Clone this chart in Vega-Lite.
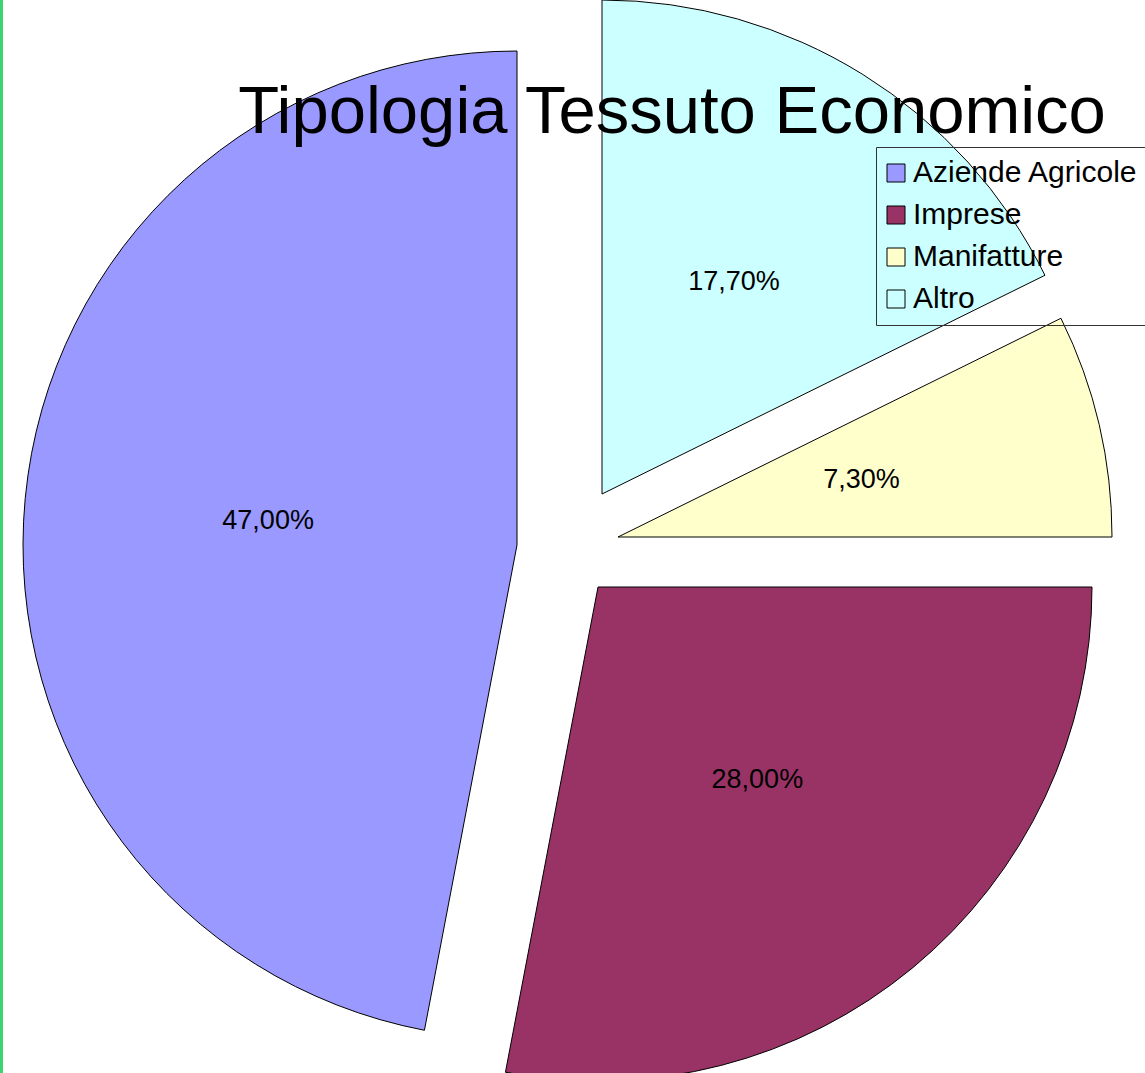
{
  "$schema": "https://vega.github.io/schema/vega-lite/v6.json",
  "width": 1142,
  "height": 1073,
  "autosize": "none",
  "padding": {"left": 3, "top": 0, "right": 0, "bottom": 0},
  "background": "#3dd46f",
  "view": {"fill": "white", "stroke": null},
  "config": {
    "view": {"fill": "white", "stroke": null},
    "font": "Liberation Sans"
  },
  "title": {
    "text": "Tipologia Tessuto Economico",
    "orient": "top",
    "anchor": "middle",
    "frame": "group",
    "offset": 0,
    "baseline": "alphabetic",
    "dx": 98,
    "dy": 202,
    "fontSize": 67,
    "fontWeight": "normal",
    "font": "Liberation Sans",
    "color": "black"
  },
  "data": {
    "values": [
      {"tipologia": "Altro", "valore": 17.7, "etichetta": "17,70%", "ord": 1},
      {"tipologia": "Manifatture", "valore": 7.3, "etichetta": "7,30%", "ord": 2},
      {"tipologia": "Imprese", "valore": 28.0, "etichetta": "28,00%", "ord": 3},
      {"tipologia": "Aziende Agricole", "valore": 47.0, "etichetta": "47,00%", "ord": 4}
    ]
  },
  "transform": [
    {"stack": "valore", "groupby": [], "sort": [{"field": "ord", "order": "ascending"}], "as": ["inizio", "fine"]},
    {"calculate": "(datum.inizio + datum.fine) / 2", "as": "medio"}
  ],
  "layer": [
    {
      "transform": [{"filter": "datum.tipologia === 'Altro'"}],
      "layer": [
        {
          "mark": {"type": "arc", "outerRadius": 494, "stroke": "black", "strokeWidth": 1, "xOffset": 28, "yOffset": -42.5},
          "encoding": {
            "theta": {"field": "inizio", "type": "quantitative", "stack": null, "scale": {"domain": [0, 100]}},
            "theta2": {"field": "fine"},
            "color": {"field": "tipologia", "type": "nominal"}
          }
        },
        {
          "mark": {"type": "text", "radius": 250, "xOffset": 28, "yOffset": -42.5, "fontSize": 27, "font": "Liberation Sans", "color": "black", "align": "center", "baseline": "middle"},
          "encoding": {
            "theta": {"field": "medio", "type": "quantitative", "stack": null},
            "text": {"field": "etichetta", "type": "nominal"}
          }
        }
      ]
    },
    {
      "transform": [{"filter": "datum.tipologia === 'Manifatture'"}],
      "layer": [
        {
          "mark": {"type": "arc", "outerRadius": 494, "stroke": "black", "strokeWidth": 1, "xOffset": 44, "yOffset": 0.5},
          "encoding": {
            "theta": {"field": "inizio", "type": "quantitative", "stack": null},
            "theta2": {"field": "fine"},
            "color": {"field": "tipologia", "type": "nominal"}
          }
        },
        {
          "mark": {"type": "text", "radius": 250, "xOffset": 44, "yOffset": 0.5, "fontSize": 27, "font": "Liberation Sans", "color": "black", "align": "center", "baseline": "middle"},
          "encoding": {
            "theta": {"field": "medio", "type": "quantitative", "stack": null},
            "text": {"field": "etichetta", "type": "nominal"}
          }
        }
      ]
    },
    {
      "transform": [{"filter": "datum.tipologia === 'Imprese'"}],
      "layer": [
        {
          "mark": {"type": "arc", "outerRadius": 494, "stroke": "black", "strokeWidth": 1, "xOffset": 24, "yOffset": 50.5},
          "encoding": {
            "theta": {"field": "inizio", "type": "quantitative", "stack": null},
            "theta2": {"field": "fine"},
            "color": {"field": "tipologia", "type": "nominal"}
          }
        },
        {
          "mark": {"type": "text", "radius": 250, "xOffset": 24, "yOffset": 50.5, "fontSize": 27, "font": "Liberation Sans", "color": "black", "align": "center", "baseline": "middle"},
          "encoding": {
            "theta": {"field": "medio", "type": "quantitative", "stack": null},
            "text": {"field": "etichetta", "type": "nominal"}
          }
        }
      ]
    },
    {
      "transform": [{"filter": "datum.tipologia === 'Aziende Agricole'"}],
      "layer": [
        {
          "mark": {"type": "arc", "outerRadius": 494, "stroke": "black", "strokeWidth": 1, "xOffset": -57, "yOffset": 8.5},
          "encoding": {
            "theta": {"field": "inizio", "type": "quantitative", "stack": null},
            "theta2": {"field": "fine"},
            "color": {
              "field": "tipologia",
              "type": "nominal",
              "scale": {
                "domain": ["Aziende Agricole", "Imprese", "Manifatture", "Altro"],
                "range": ["#9999ff", "#993366", "#ffffcc", "#ccffff"]
              },
              "legend": {
                "title": null,
                "orient": "none",
                "legendX": 873,
                "legendY": 147,
                "padding": 11,
                "strokeColor": "#333333",
                "fillColor": null,
                "symbolType": "square",
                "symbolSize": 324,
                "symbolOffset": -6,
                "symbolStrokeColor": "#222222",
                "symbolStrokeWidth": 1,
                "symbolOpacity": 1,
                "labelFont": "Liberation Sans",
                "labelFontSize": 30,
                "labelColor": "black",
                "labelOffset": 2,
                "labelLimit": 0,
                "rowPadding": 12,
                "cornerRadius": 0
              }
            }
          }
        },
        {
          "mark": {"type": "text", "radius": 250, "xOffset": -57, "yOffset": 8.5, "fontSize": 27, "font": "Liberation Sans", "color": "black", "align": "center", "baseline": "middle"},
          "encoding": {
            "theta": {"field": "medio", "type": "quantitative", "stack": null},
            "text": {"field": "etichetta", "type": "nominal"}
          }
        }
      ]
    }
  ]
}
